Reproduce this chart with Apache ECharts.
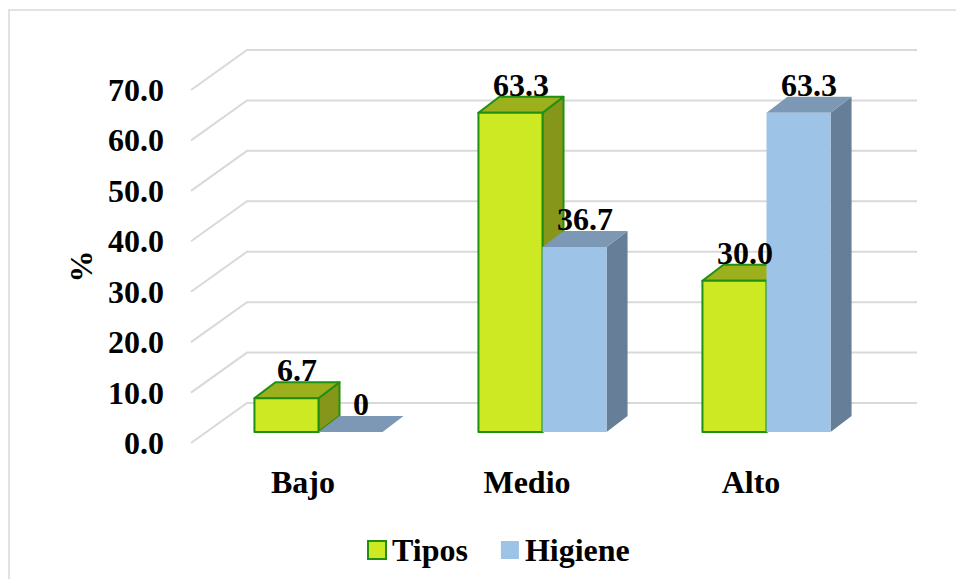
<!DOCTYPE html>
<html>
<head>
<meta charset="utf-8">
<script src="https://cdn.jsdelivr.net/npm/echarts@6/dist/echarts.min.js"></script>
<style>
  html, body { margin: 0; padding: 0; background: #fff; }
  #main { width: 956px; height: 579px; }
</style>
</head>
<body>
<div id="main"></div>
<script>
var categories = ['Bajo', 'Medio', 'Alto']
var tipos = [6.7, 63.3, 30.0]
var higiene = [0, 36.7, 63.3]
var yTicks = [0, 10, 20, 30, 40, 50, 60, 70]

var FONT = '"Liberation Serif", "Times New Roman", serif'
var FS = 32

// colours of the three visible faces of each 3D column
var faces = {
  Tipos: { front: '#CDE923', top: '#9BB01C', side: '#86961A', stroke: '#1F900F', shift: -1, z2: 0 },
  Higiene: { front: '#9DC3E6', top: '#7D98B4', side: '#667E98', stroke: null, shift: 0, z2: 1 }
}

function renderWall (params, api) {
  var p = api.coord([0, api.value(1)])
  var cs = params.coordSys
  var x0 = cs.x
  return {
    type: 'polyline',
    shape: { points: [[x0, p[1]], [x0 + 56, p[1] - 40], [cs.x + cs.width + 54, p[1] - 40]] },
    style: { stroke: '#D9D9D9', lineWidth: 2, fill: null },
    silent: true
  }
}

function renderColumn (params, api) {
  var f = faces[params.seriesName]
  var cat = api.value(0)
  var val = api.value(1)
  var base = api.coord([cat, 0])
  var top = api.coord([cat, val])
  var band = api.size([1, 0])[0]
  var w = band * 0.286
  var dx = 21
  var dy = -16
  // columns stand a bit behind the front edge of the floor
  var x0 = base[0] + 15.5 + f.shift * w
  var yb = base[1] - 11
  var yt = top[1] - 11
  var lw = f.stroke ? 2 : 0
  var st = function (fill) {
    return { fill: fill, stroke: f.stroke, lineWidth: lw, lineJoin: 'round' }
  }
  var label = val === 0 ? '0' : val.toFixed(1)
  return {
    type: 'group',
    children: [
      {
        type: 'polygon',
        z2: f.z2,
        shape: { points: [[x0 + w, yt], [x0 + w + dx, yt + dy], [x0 + w + dx, yb + dy], [x0 + w, yb]] },
        style: st(f.side)
      },
      {
        type: 'polygon',
        z2: f.z2,
        shape: { points: [[x0, yt], [x0 + w, yt], [x0 + w + dx, yt + dy], [x0 + dx, yt + dy]] },
        style: st(f.top)
      },
      {
        type: 'rect',
        z2: f.z2,
        shape: { x: x0, y: yt, width: w, height: yb - yt },
        style: st(f.front)
      },
      {
        type: 'text',
        z2: 10,
        style: {
          text: label,
          x: x0 + (w + dx) / 2,
          y: yt + dy + 4,
          align: 'center',
          verticalAlign: 'bottom',
          fontSize: FS,
          fontWeight: 'bold',
          fontFamily: FONT,
          fill: '#000'
        }
      }
    ]
  }
}

var myChart = echarts.init(document.getElementById('main'), null, { renderer: 'svg' })
var option = {
  backgroundColor: '#fff',
  animation: false,
  graphic: [
    {
      type: 'rect',
      z: -10,
      shape: { x: 9, y: 10, width: 1000, height: 620 },
      style: { fill: null, stroke: '#D9D9D9', lineWidth: 1.5 }
    }
  ],
  legend: {
    left: 362,
    top: 529,
    itemWidth: 18,
    itemHeight: 18,
    itemGap: 33,
    icon: 'rect',
    textStyle: { fontSize: FS, fontWeight: 'bold', fontFamily: FONT, color: '#000', padding: [0, 0, 0, 1] },
    data: [
      { name: 'Tipos', itemStyle: { color: '#CDE923', borderColor: '#1F900F', borderWidth: 2 } },
      { name: 'Higiene', itemStyle: { color: '#9DC3E6', borderWidth: 0 } }
    ]
  },
  grid: {
    left: 191,
    right: 93,
    top: 90,
    bottom: 136
  },
  xAxis: {
    type: 'category',
    data: categories,
    axisLine: { show: false },
    axisTick: { show: false },
    axisLabel: {
      margin: 23,
      fontSize: FS,
      fontWeight: 'bold',
      fontFamily: FONT,
      color: '#000'
    }
  },
  yAxis: {
    type: 'value',
    min: 0,
    max: 70,
    interval: 10,
    name: '%',
    nameLocation: 'middle',
    nameRotate: 90,
    nameGap: 93,
    nameTextStyle: { fontSize: FS, fontWeight: 'bold', fontFamily: FONT, color: '#000' },
    axisLine: { show: false },
    axisTick: { show: false },
    splitLine: { show: false },
    axisLabel: {
      margin: 27,
      fontSize: FS,
      fontWeight: 'bold',
      fontFamily: FONT,
      color: '#000',
      formatter: function (v) { return v.toFixed(1) }
    }
  },
  series: [
    {
      name: 'wall',
      type: 'custom',
      z: 1,
      silent: true,
      renderItem: renderWall,
      encode: { x: 0, y: 1 },
      data: yTicks.map(function (v) { return [0, v] })
    },
    {
      name: 'Tipos',
      type: 'custom',
      z: 2,
      itemStyle: { color: '#CDE923' },
      renderItem: renderColumn,
      encode: { x: 0, y: 1 },
      data: tipos.map(function (v, i) { return [i, v] })
    },
    {
      name: 'Higiene',
      type: 'custom',
      z: 2,
      itemStyle: { color: '#9DC3E6' },
      renderItem: renderColumn,
      encode: { x: 0, y: 1 },
      data: higiene.map(function (v, i) { return [i, v] })
    }
  ]
}
option && myChart.setOption(option)
</script>
</body>
</html>
